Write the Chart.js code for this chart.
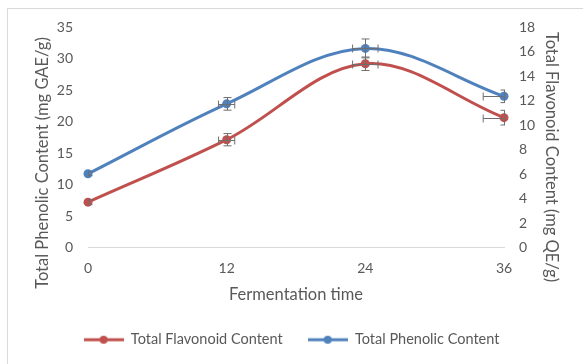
<!DOCTYPE html>
<html lang="en">
<head>
<meta charset="UTF-8">
<title>Phenolic and flavonoid content vs fermentation time</title>
<script src="https://cdn.jsdelivr.net/npm/chart.js"></script>
<style>
  body { margin: 0; background: #fff; }
  #chart { display: block; }
</style>
</head>
<body>
<canvas id="chart" width="583" height="364"></canvas>
<script>
// fermentation time (h)
const times = [0, 12, 24, 36];
const timeTicks = [0, 12, 24, 36];
const timeErr = [0, 0.7, 1.1, 1.8];

// Total Flavonoid Content (mg QE/g), right axis
const flavonoid = [3.7, 8.8, 15.0, 10.6];
const flavonoidErr = [0.2, 0.5, 0.55, 0.6];

// Total Phenolic Content (mg GAE/g), left axis
const phenolic = [11.7, 22.8, 31.6, 24.0];
const phenolicErr = [0.3, 1.0, 1.5, 1.0];

const leftTitle = 'Total Phenolic Content (mg GAE/g)';
const rightTitle = 'Total Flavonoid Content (mg QE/g)';
const xTitle = 'Fermentation time';

const textColor = '#595959';
const fontFamily = 'Lato, "Liberation Sans", sans-serif';

// little line+dot image for the legend
function legendMark(color) {
  const c = document.createElement('canvas');
  c.width = 40; c.height = 10;
  const g = c.getContext('2d');
  g.strokeStyle = color; g.lineWidth = 3;
  g.beginPath(); g.moveTo(0, 5); g.lineTo(40, 5); g.stroke();
  g.fillStyle = color;
  g.beginPath(); g.arc(20, 5, 4, 0, Math.PI * 2); g.fill();
  return c;
}

// outer frame + white background
const frame = {
  id: 'frame',
  beforeDraw(chart) {
    const ctx = chart.ctx;
    ctx.save();
    ctx.fillStyle = '#fff';
    ctx.fillRect(0, 0, chart.width, chart.height);
    ctx.strokeStyle = '#d9d9d9';
    ctx.lineWidth = 1;
    ctx.strokeRect(7.5, 8.5, 620, 400);
    ctx.restore();
  }
};

// x and y error bars
const errorBars = {
  id: 'errorBars',
  afterDatasetsDraw(chart) {
    const ctx = chart.ctx, area = chart.chartArea;
    const xs = chart.scales.x;
    ctx.save();
    ctx.beginPath();
    ctx.rect(area.left, area.top - 20, area.right - area.left + 1, area.bottom - area.top + 40);
    ctx.clip();
    ctx.strokeStyle = '#6e6e6e';
    ctx.lineWidth = 1;
    const cap = 4;
    chart.data.datasets.forEach(ds => {
      const ys = chart.scales[ds.yAxisID];
      ds.data.forEach((p, i) => {
        const px = Math.round(xs.getPixelForValue(p.x)) + 0.5;
        const py = Math.round(ys.getPixelForValue(p.y)) + 0.5;
        const e = ds.errors[i];
        if (e > 0) {
          const t = ys.getPixelForValue(p.y + e), b = ys.getPixelForValue(p.y - e);
          ctx.beginPath();
          ctx.moveTo(px, t); ctx.lineTo(px, b);
          ctx.moveTo(px - cap, t); ctx.lineTo(px + cap, t);
          ctx.moveTo(px - cap, b); ctx.lineTo(px + cap, b);
          ctx.stroke();
        }
        const h = timeErr[i];
        if (h > 0) {
          const l = xs.getPixelForValue(p.x - h), r = xs.getPixelForValue(p.x + h);
          ctx.beginPath();
          ctx.moveTo(l, py); ctx.lineTo(r, py);
          ctx.moveTo(l, py - cap); ctx.lineTo(l, py + cap);
          ctx.moveTo(r, py - cap); ctx.lineTo(r, py + cap);
          ctx.stroke();
        }
      });
    });
    ctx.restore();
  }
};

// rotated y axis titles
const sideTitles = {
  id: 'sideTitles',
  afterDraw(chart) {
    const ctx = chart.ctx;
    ctx.save();
    ctx.font = '16.5px ' + fontFamily;
    ctx.fillStyle = textColor;
    ctx.textAlign = 'center';
    ctx.textBaseline = 'middle';
    ctx.translate(43, 163);
    ctx.rotate(-Math.PI / 2);
    ctx.fillText(leftTitle, 0, 0);
    ctx.restore();
    ctx.save();
    ctx.font = '16.5px ' + fontFamily;
    ctx.fillStyle = textColor;
    ctx.textAlign = 'center';
    ctx.textBaseline = 'middle';
    ctx.translate(551, 157);
    ctx.rotate(Math.PI / 2);
    ctx.fillText(rightTitle, 0, 0);
    ctx.restore();
  }
};

const ctx = document.getElementById('chart').getContext('2d');
const chart = new Chart(ctx, {
  type: 'line',
  data: {
    datasets: [{
      label: 'Total Flavonoid Content',
      data: times.map((t, i) => ({ x: t, y: flavonoid[i] })),
      errors: flavonoidErr,
      yAxisID: 'y1',
      borderColor: '#C0504D',
      backgroundColor: '#C0504D',
      borderWidth: 3,
      pointRadius: 4.5,
      pointBorderWidth: 0,
      tension: 0.35,
      clip: false,
      legendMark: legendMark('#C0504D')
    }, {
      label: 'Total Phenolic Content',
      data: times.map((t, i) => ({ x: t, y: phenolic[i] })),
      errors: phenolicErr,
      yAxisID: 'y',
      borderColor: '#4F81BD',
      backgroundColor: '#4F81BD',
      borderWidth: 3,
      pointRadius: 4.5,
      pointBorderWidth: 0,
      tension: 0.35,
      clip: false,
      legendMark: legendMark('#4F81BD')
    }]
  },
  options: {
    responsive: false,
    animation: false,
    devicePixelRatio: 1,
    layout: { padding: { left: 0, right: 0, top: 27, bottom: 7 } },
    plugins: {
      tooltip: { enabled: false },
      legend: {
        position: 'bottom',
        labels: {
          usePointStyle: true,
          pointStyleWidth: 40,
          padding: 25,
          color: textColor,
          font: { family: fontFamily, size: 14.5 },
          generateLabels(chart) {
            const items = Chart.defaults.plugins.legend.labels.generateLabels(chart);
            items.forEach(it => { it.pointStyle = chart.data.datasets[it.datasetIndex].legendMark; });
            return items;
          }
        }
      }
    },
    scales: {
      x: {
        type: 'linear',
        min: 0,
        max: 36,
        afterBuildTicks(scale) { scale.ticks = timeTicks.map(v => ({ value: v })); },
        afterFit(scale) { scale.height = 60; },
        grid: { display: false, drawTicks: false },
        border: { display: true, color: '#d9d9d9', width: 1 },
        ticks: { color: textColor, font: { family: fontFamily, size: 14 }, padding: 13, maxRotation: 0 },
        title: { display: true, text: xTitle, color: textColor, font: { family: fontFamily, size: 16.5 }, padding: { top: 4, bottom: 3 } }
      },
      y: {
        position: 'left',
        min: 0,
        max: 35,
        ticks: { stepSize: 5, color: textColor, font: { family: fontFamily, size: 14 }, padding: 15 },
        afterFit(scale) { scale.width = 88; },
        grid: { display: false, drawTicks: false },
        border: { display: false }
      },
      y1: {
        position: 'right',
        min: 0,
        max: 18,
        ticks: { stepSize: 2, color: textColor, font: { family: fontFamily, size: 14 }, padding: 15 },
        afterFit(scale) { scale.width = 79; },
        grid: { display: false, drawTicks: false },
        border: { display: false }
      }
    }
  },
  plugins: [frame, errorBars, sideTitles]
});
</script>
</body>
</html>
